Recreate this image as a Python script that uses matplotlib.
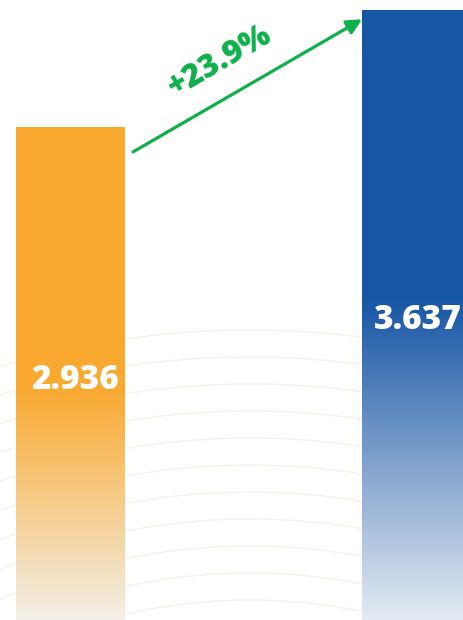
import numpy as np
import matplotlib
matplotlib.use("Agg")
import matplotlib.pyplot as plt
from matplotlib.colors import to_rgb

values = [2.936, 3.637]
value_labels = ["2.936", "3.637"]
growth_label = "+23.9%"
top_colors = ["#F9A930", "#1756A5"]
bottom_colors = ["#F3EFE6", "#E4EAF3"]
solid_part = [0.53, 0.475]   # share of the bar (from the top) that stays solid

fig = plt.figure(figsize=(4.63, 6.2), dpi=100)

# background with faint arcs, in pixel coordinates
bg = fig.add_axes([0, 0, 1, 1])
bg.set_xlim(0, 463)
bg.set_ylim(620, 0)
bg.axis("off")
t = np.linspace(0, 2 * np.pi, 800)
for r in np.arange(725, 380, -27):
    bg.plot(250 + r * 1.1 * np.cos(t), 1055 + r * np.sin(t), color="#F5EBE0", lw=1.0, alpha=0.7)

ax = fig.add_axes([0, 0, 1, 1])
ax.patch.set_alpha(0)
x = np.arange(len(values))
w = 0.315
ax.axis("off")

for i, v in enumerate(values):
    n = 256
    frac = np.linspace(0, 1, n)[:, None]  # 0 at bottom, 1 at top
    start = 1 - solid_part[i]
    k = np.clip(frac / start, 0, 1)
    c0 = np.array(to_rgb(bottom_colors[i]))
    c1 = np.array(to_rgb(top_colors[i]))
    img = c0 + (c1 - c0) * k[..., None]
    img = np.repeat(img, 2, axis=1)
    ax.imshow(img, extent=[x[i] - w / 2, x[i] + w / 2, 0, v], origin="lower",
              aspect="auto", interpolation="bilinear", zorder=2)

ax.set_xlim(-0.2038, 1.1344)
ax.set_ylim(0, 3.697)

ax.text(x[0] + 0.013, 1.43, value_labels[0], color="white", fontsize=24,
        fontweight=800, family="Open Sans", ha="center", va="center", zorder=3)
ax.text(x[1] + 0.005, 1.79, value_labels[1], color="white", fontsize=24,
        fontweight=800, family="Open Sans", ha="center", va="center", zorder=3)

green = "#0DB04B"
ax.annotate("", xy=(x[1] - w / 2, values[1] - 0.055),
            xytext=(x[0] + w / 2 + 0.023, values[0] - 0.145),
            arrowprops=dict(arrowstyle="-|>,head_length=0.9,head_width=0.45",
                        color=green, lw=2.3, shrinkA=0, shrinkB=0), zorder=4)
ax.text(0.432, 3.33, growth_label, color=green, fontsize=23, fontweight=800,
        family="Open Sans", rotation=30, ha="center", va="center",
        rotation_mode="anchor", zorder=4)

fig.savefig("out.png", dpi=100)
